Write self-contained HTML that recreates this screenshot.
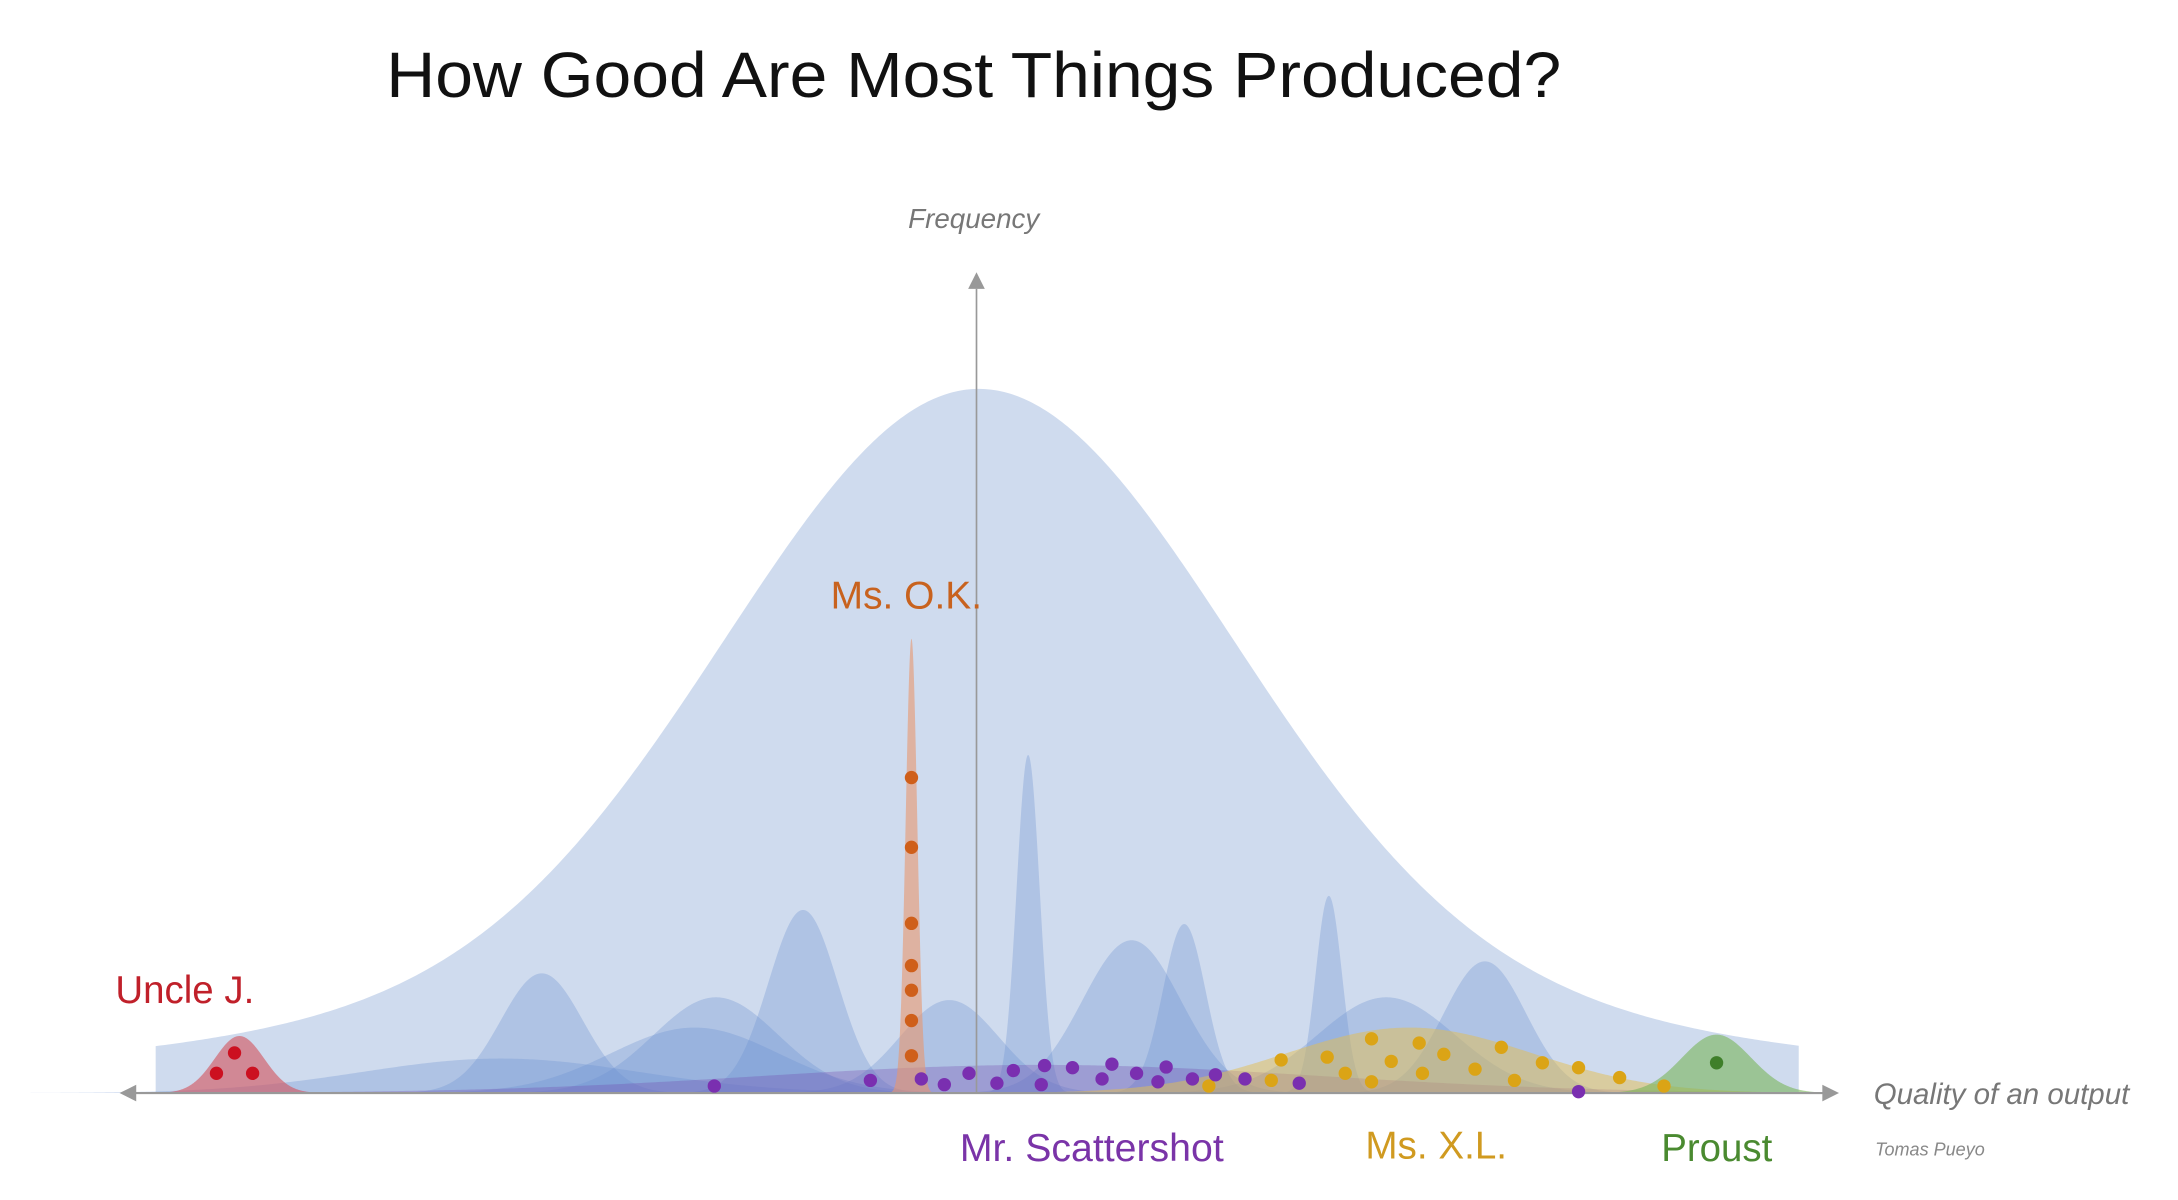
<!DOCTYPE html>
<html><head><meta charset="utf-8"><style>html,body{margin:0;padding:0;background:#fff}svg{display:block}</style></head>
<body>
<svg id="chart" width="2178" height="1200" viewBox="0 0 1568 864" xmlns="http://www.w3.org/2000/svg" font-family="Liberation Sans, sans-serif">
<text x="278" y="70" font-size="46" textLength="846" lengthAdjust="spacingAndGlyphs" fill="#111">How Good Are Most Things Produced?</text>
<g id="areas"></g>
<line x1="703" y1="208" x2="703" y2="787" stroke="#999" stroke-width="1.2"/>
<polygon points="697,208 709,208 703,196" fill="#999"/>
<line x1="95" y1="787" x2="1315" y2="787" stroke="#999" stroke-width="1.5"/>
<polygon points="86,787 98,781 98,793" fill="#999"/>
<polygon points="1324,787 1312,781 1312,793" fill="#999"/>
<g id="dots"></g>
<text x="701" y="164" font-size="20" font-style="italic" fill="#777" text-anchor="middle">Frequency</text>
<text x="1349" y="795" font-size="21" font-style="italic" fill="#777" textLength="184" lengthAdjust="spacingAndGlyphs">Quality of an output</text>
<text x="1350" y="832" font-size="13" font-style="italic" fill="#888">Tomas Pueyo</text>
<text x="598" y="438" font-size="28" fill="#c8621e" textLength="109" lengthAdjust="spacingAndGlyphs">Ms. O.K.</text>
<text x="83" y="722" font-size="28" fill="#c0202a" textLength="100" lengthAdjust="spacingAndGlyphs">Uncle J.</text>
<text x="691" y="836" font-size="28" fill="#7a34a8" textLength="190" lengthAdjust="spacingAndGlyphs">Mr. Scattershot</text>
<text x="983" y="834" font-size="28" fill="#d09a20" textLength="102" lengthAdjust="spacingAndGlyphs">Ms. X.L.</text>
<text x="1196" y="836" font-size="28" fill="#4a8a30" textLength="80" lengthAdjust="spacingAndGlyphs">Proust</text>
</svg>
<script>
// curve data (quality units 0-100, frequency units 0-100)
const bellCenters = [50.1, 50.1], bellSigmas = [15.2, 38], bellHeights = [85, 15];
const bumpCenters = [21.0, 32.8, 34.1, 23.5, 39.4, 48.3, 53.1, 59.4, 62.6, 71.4, 74.9, 80.9];
const bumpSigmas  = [8.5, 5.1, 3.8, 2.5, 2.1, 3.0, 0.7, 3.0, 1.3, 0.8, 4.2, 2.5];
const bumpHeights = [4.9, 9.3, 13.6, 17, 26, 13.2, 48, 21.7, 24, 28, 13.6, 18.7];
const seriesNames   = ['scattershot', 'ms-xl', 'ms-ok', 'uncle-j', 'proust'];
const seriesCenters = [53.9, 76.3, 46.0, 5.1, 95.0];
const seriesSigmas  = [17, 7.5, 0.35, 1.5, 2.1];
const seriesHeights = [4, 9.3, 64.5, 8.1, 8.3];
const seriesFills   = ['rgba(110,60,170,0.28)', 'rgba(228,190,80,0.5)', 'rgba(232,150,110,0.6)', 'rgba(210,80,90,0.6)', 'rgba(120,180,90,0.6)'];
// dots
const okQ = [46.0, 46.0, 46.0, 46.0, 46.0, 46.0, 46.0];
const okF = [44.8, 34.9, 24.1, 18.1, 14.6, 10.3, 5.3];
const uncleQ = [4.8, 3.7, 5.9];
const uncleF = [5.7, 2.8, 2.8];
const proustQ = [95.0];
const proustF = [4.3];
const scatterQ = [34.0, 43.5, 46.6, 48.0, 49.5, 51.2, 52.2, 54.1, 53.9, 55.8, 57.6, 58.2, 59.7, 61.0, 61.5, 63.1, 64.5, 66.3, 69.6, 86.6];
const scatterF = [1.0, 1.8, 2.0, 1.2, 2.8, 1.4, 3.2, 3.9, 1.2, 3.6, 2.0, 4.1, 2.8, 1.6, 3.7, 2.0, 2.6, 2.0, 1.4, 0.2];
const xlQ = [64.1, 67.9, 68.5, 71.3, 72.4, 74.0, 74.0, 75.2, 76.9, 77.1, 78.4, 80.3, 81.9, 82.7, 84.4, 86.6, 89.1, 91.8];
const xlF = [1.0, 1.8, 4.7, 5.1, 2.8, 7.7, 1.6, 4.5, 7.1, 2.8, 5.5, 3.4, 6.5, 1.8, 4.3, 3.6, 2.2, 1.0];

const xS = q => 112 + q * 11.83;
const yS = f => 787 - f * 5.07;
const NS = 'http://www.w3.org/2000/svg';
const areas = document.getElementById('areas');
const dotsG = document.getElementById('dots');
function gauss(q, c, s, h) { return h * Math.exp(-((q - c) * (q - c)) / (2 * s * s)); }
function mix(q, cs, ss, hs) { let v = 0; for (let i = 0; i < cs.length; i++) v += gauss(q, cs[i], ss[i], hs[i]); return v; }
function areaPath(cs, ss, hs, q0, q1) {
  let d = 'M' + xS(q0) + ',' + yS(0);
  const n = 600;
  for (let i = 0; i <= n; i++) { const q = q0 + (q1 - q0) * i / n; d += 'L' + xS(q).toFixed(2) + ',' + yS(mix(q, cs, ss, hs)).toFixed(2); }
  return d + 'L' + xS(q1) + ',' + yS(0) + 'Z';
}
const bell = document.createElementNS(NS, 'path');
bell.setAttribute('d', areaPath(bellCenters, bellSigmas, bellHeights, 0, 100));
bell.setAttribute('fill', '#cfdbee');


areas.appendChild(bell);
for (let i = 0; i < bumpCenters.length; i++) {
  const p = document.createElementNS(NS, 'path');
  p.setAttribute('d', areaPath([bumpCenters[i]], [bumpSigmas[i]], [bumpHeights[i]], bumpCenters[i] - 4 * bumpSigmas[i], bumpCenters[i] + 4 * bumpSigmas[i]));
  p.setAttribute('fill', 'rgba(110,145,210,0.33)');
  
  
  areas.appendChild(p);
}
for (let i = 0; i < seriesCenters.length; i++) {
  const p = document.createElementNS(NS, 'path');
  p.setAttribute('d', areaPath([seriesCenters[i]], [seriesSigmas[i]], [seriesHeights[i]], Math.max(-1.5, seriesCenters[i] - 4 * seriesSigmas[i]), Math.min(102, seriesCenters[i] + 4 * seriesSigmas[i])));
  p.setAttribute('fill', seriesFills[i]);
  
  
  areas.appendChild(p);
}
function drawDots(qs, fs, color, name) {
  for (let i = 0; i < qs.length; i++) {
    const c = document.createElementNS(NS, 'circle');
    c.setAttribute('cx', xS(qs[i]));
    c.setAttribute('cy', yS(fs[i]));
    c.setAttribute('r', 4.8);
    c.setAttribute('fill', color);
    
    
    dotsG.appendChild(c);
  }
}
drawDots(okQ, okF, '#cf5f1a', 'ms-ok-dot');
drawDots(uncleQ, uncleF, '#cc1020', 'uncle-j-dot');
drawDots(proustQ, proustF, '#3f7f2a', 'proust-dot');
drawDots(xlQ, xlF, '#dba416', 'ms-xl-dot');
drawDots(scatterQ, scatterF, '#7a2fb0', 'scattershot-dot');
</script>
</body></html>
